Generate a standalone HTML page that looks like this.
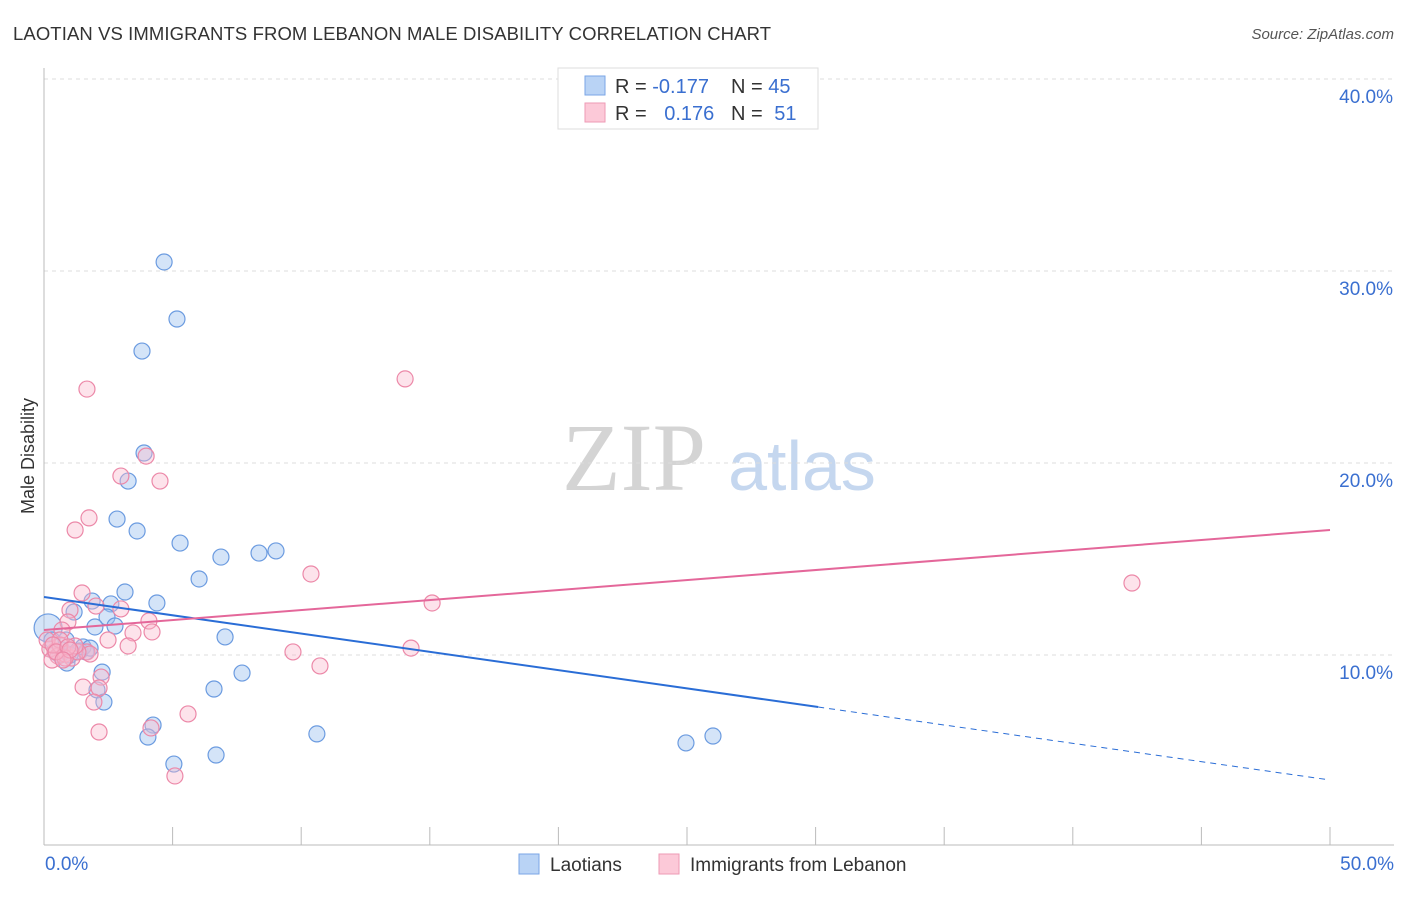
<!DOCTYPE html>
<html><head><meta charset="utf-8"><style>
body{margin:0;background:#fff;font-family:"Liberation Sans",sans-serif;}
svg text{font-family:"Liberation Sans",sans-serif;}
</style></head><body>
<svg id="chart" width="1406" height="892" xmlns="http://www.w3.org/2000/svg">
<text x="13" y="40" font-size="18.5" fill="#333" textLength="758" lengthAdjust="spacing">LAOTIAN VS IMMIGRANTS FROM LEBANON MALE DISABILITY CORRELATION CHART</text>
<text x="1394" y="39" font-size="15" fill="#555" font-style="italic" text-anchor="end">Source: ZipAtlas.com</text>
<text x="634" y="490" font-size="96" fill="#d4d4d4" text-anchor="middle" style="font-family:'Liberation Serif',serif">ZIP</text>
<text x="802" y="490" font-size="70" fill="#c5d7ef" text-anchor="middle">atlas</text>
<g id="grid"></g>
<g id="axes"></g>
<g id="marks"></g>
<text transform="translate(34,456) rotate(-90)" font-size="18" fill="#333" text-anchor="middle">Male Disability</text>
<g>
<rect x="558" y="68" width="260" height="61" fill="#fff" stroke="#ddd"/>
<rect x="585" y="76" width="20" height="19" fill="#b9d3f5" stroke="#7aa6e6"/>
<rect x="585" y="103" width="20" height="19" fill="#fcc9d8" stroke="#ee9ab5"/>
<text x="615" y="93" font-size="20" fill="#333">R = <tspan fill="#3a6fd0">-0.177</tspan></text>
<text x="731" y="93" font-size="20" fill="#333">N = <tspan fill="#3a6fd0">45</tspan></text>
<text x="615" y="120" font-size="20" fill="#333">R = <tspan fill="#3a6fd0" dx="12">0.176</tspan></text>
<text x="731" y="120" font-size="20" fill="#333">N = <tspan fill="#3a6fd0" dx="6">51</tspan></text>
</g>
<g>
<rect x="519" y="854" width="20" height="20" fill="#b9d3f5" stroke="#7aa6e6"/>
<text x="550" y="871" font-size="19" fill="#333">Laotians</text>
<rect x="659" y="854" width="20" height="20" fill="#fcc9d8" stroke="#ee9ab5"/>
<text x="690" y="871" font-size="19" fill="#333">Immigrants from Lebanon</text>
</g>
</svg>
<script>
const blueX=[4.67,5.17,3.81,3.89,3.27,2.84,3.62,5.29,6.88,8.36,9.02,6.03,3.15,4.39,2.60,1.87,2.45,2.76,1.98,1.17,7.04,7.70,6.61,2.26,2.06,2.33,4.24,4.04,5.05,6.69,10.61,24.96,26.01,0.89,0.70,0.16,0.31,0.62,1.40,1.63,1.01,0.43,0.86,1.52,1.79];
const blueY=[30.47,27.50,25.83,20.52,19.06,17.08,16.46,15.83,15.10,15.31,15.42,13.96,13.28,12.71,12.66,12.81,11.98,11.51,11.46,12.24,10.94,9.06,8.23,9.11,8.18,7.55,6.35,5.73,4.32,4.79,5.89,5.42,5.78,9.58,10.26,11.41,10.78,10.00,10.21,10.16,10.00,10.16,10.78,10.42,10.36];
const pinkX=[1.67,14.04,3.97,4.51,2.99,1.75,1.21,10.38,42.30,15.09,1.48,1.01,2.02,2.99,4.08,4.20,3.46,2.49,3.27,0.93,0.70,9.68,10.73,14.27,1.67,1.79,1.52,2.22,2.14,1.94,5.60,2.14,4.16,5.09,0.43,0.23,0.54,0.82,1.09,0.62,0.12,0.31,1.32,0.82,1.21,0.62,0.35,0.47,0.93,1.01,0.74];
const pinkY=[23.85,24.38,20.36,19.06,19.32,17.14,16.51,14.22,13.75,12.71,13.23,12.34,12.55,12.40,11.77,11.20,11.15,10.78,10.47,11.72,11.30,10.16,9.43,10.36,10.16,10.05,8.33,8.85,8.28,7.55,6.93,5.99,6.20,3.70,10.21,10.31,9.95,10.05,9.84,10.52,10.78,9.74,10.16,9.84,10.47,10.78,10.52,10.16,10.42,10.26,9.74];
const blueTrend=[[0,13.02],[30.1,7.29],[50,3.49]];
const pinkTrend=[[0,11.30],[50,16.51]];
const yTicks=[10,20,30,40];
const yTickLabels=["10.0%","20.0%","30.0%","40.0%"];
const xTicks=[0,5,10,15,20,25,30,35,40,45,50];
const xEndLabels=["0.0%","50.0%"];

const NS="http://www.w3.org/2000/svg";
const sx=v=>44+v*25.72;
const sy=v=>847-v*19.2;
function mk(tag,attrs,parent){const e=document.createElementNS(NS,tag);for(const k in attrs)e.setAttribute(k,attrs[k]);parent.appendChild(e);return e;}
const grid=document.getElementById('grid'),axes=document.getElementById('axes'),marks=document.getElementById('marks');
yTicks.forEach((t,i)=>{
  const l=mk('line',{x1:44,x2:1394,y1:sy(t),y2:sy(t),stroke:'#ddd','stroke-dasharray':'4,4'},grid);
  
  
  const tx=mk('text',{x:1393,y:sy(t)+24,'font-size':19,fill:'#3a6fd0','text-anchor':'end'},grid);
  tx.textContent=yTickLabels[i];
  
  
});
const ya=mk('line',{x1:44,x2:44,y1:68,y2:845,stroke:'#bbb'},axes);


const xa=mk('line',{x1:44,x2:1394,y1:845,y2:845,stroke:'#bbb'},axes);


xTicks.forEach(t=>{
  const l=mk('line',{x1:sx(t),x2:sx(t),y1:827,y2:845,stroke:'#bbb'},axes);
  
  
});
[[0,'start',45],[50,'end',1394]].forEach((d,i)=>{
  const tx=mk('text',{x:d[2],y:870,'font-size':19,fill:'#3a6fd0','text-anchor':d[1]},axes);
  tx.textContent=xEndLabels[i];
  
  
});
blueX.forEach((x,i)=>{
  const c=mk('circle',{cx:sx(x),cy:sy(blueY[i]),r:(i===35?14:8),fill:'rgba(160,195,240,0.45)',stroke:'#6b9be0','stroke-width':1.2},marks);
  
  
});
pinkX.forEach((x,i)=>{
  const c=mk('circle',{cx:sx(x),cy:sy(pinkY[i]),r:8,fill:'rgba(250,185,205,0.4)',stroke:'#ec88a8','stroke-width':1.2},marks);
  
  
});
const b1=mk('line',{x1:sx(blueTrend[0][0]),y1:sy(blueTrend[0][1]),x2:sx(blueTrend[1][0]),y2:sy(blueTrend[1][1]),stroke:'#2a6dd6','stroke-width':2},marks);


const b2=mk('line',{x1:sx(blueTrend[1][0]),y1:sy(blueTrend[1][1]),x2:sx(blueTrend[2][0]),y2:sy(blueTrend[2][1]),stroke:'#2a6dd6','stroke-width':1,'stroke-dasharray':'6,5'},marks);


const p1=mk('line',{x1:sx(pinkTrend[0][0]),y1:sy(pinkTrend[0][1]),x2:sx(pinkTrend[1][0]),y2:sy(pinkTrend[1][1]),stroke:'#e4679a','stroke-width':2},marks);


</script>
</body></html>
